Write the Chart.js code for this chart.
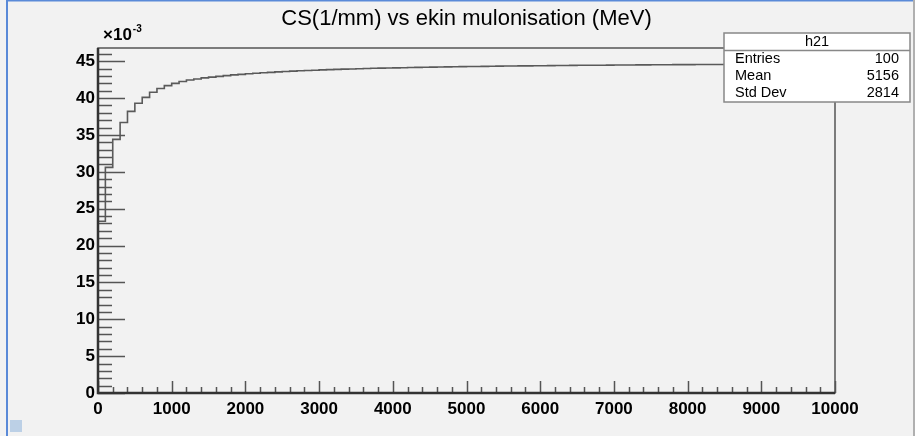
<!DOCTYPE html>
<html>
<head>
<meta charset="utf-8">
<script src="https://cdn.jsdelivr.net/npm/chart.js@4"></script>
<style>
  body { margin: 0; background: #f2f2f2; overflow: hidden; }
  canvas { display: block; }
</style>
</head>
<body>
<canvas id="chart" width="915" height="436"></canvas>
<script>
// histogram h21: 100 bins of width 100 MeV, values in units of 1e-3 (1/mm)
const binWidth = 100;
const csValues = [
  0, 23.3, 30.6, 34.4, 36.7, 38.2, 39.3, 40.1, 40.8, 41.3,
  41.7, 42.0, 42.25, 42.45, 42.6, 42.75, 42.85, 42.95, 43.05, 43.15,
  43.22, 43.3, 43.37, 43.44, 43.5, 43.56, 43.61, 43.66, 43.71, 43.75,
  43.79, 43.83, 43.87, 43.9, 43.93, 43.96, 43.99, 44.02, 44.05, 44.07,
  44.09, 44.11, 44.13, 44.15, 44.17, 44.19, 44.21, 44.23, 44.24, 44.26,
  44.27, 44.29, 44.3, 44.31, 44.33, 44.34, 44.35, 44.36, 44.37, 44.38,
  44.39, 44.4, 44.41, 44.42, 44.43, 44.44, 44.45, 44.46, 44.46, 44.47,
  44.48, 44.49, 44.49, 44.5, 44.51, 44.51, 44.52, 44.53, 44.53, 44.54,
  44.54, 44.55, 44.56, 44.56, 44.57, 44.57, 44.58, 44.58, 44.59, 44.59,
  44.6, 44.6, 44.61, 44.61, 44.62, 44.62, 44.62, 44.63, 44.63, 44.64
];
const xTicks = [0, 1000, 2000, 3000, 4000, 5000, 6000, 7000, 8000, 9000, 10000];
const yTicks = [0, 5, 10, 15, 20, 25, 30, 35, 40, 45];
const statsLabels = ['Entries', 'Mean', 'Std Dev'];
const statsValues = ['100', '5156', '2814'];

const FONT = "'Liberation Sans', Arial, Helvetica, sans-serif";

// bin low edges + closing point at the upper edge of the last bin
const points = csValues.map((v, i) => ({ x: i * binWidth, y: v }));
points.push({ x: csValues.length * binWidth, y: csValues[csValues.length - 1] });

const rootStyle = {
  id: 'rootStyle',
  beforeDraw(chart) {
    const c = chart.ctx;
    c.save();
    c.fillStyle = '#f2f2f2';
    c.fillRect(0, 0, chart.width, chart.height);
    // window edges
    c.fillStyle = '#5a8ad8';
    c.fillRect(6, 0, 2, chart.height);
    c.fillRect(6, 0, chart.width - 6, 1.5);
    c.fillStyle = '#b0b0b0';
    c.fillRect(chart.width - 2, 0, 2, chart.height);
    // small resize marker
    c.fillStyle = '#bcd0e6';
    c.fillRect(10, 420, 12, 12);
    c.restore();
  },
  afterDatasetsDraw(chart) {
    const c = chart.ctx;
    const a = chart.chartArea;
    const xs = chart.scales.x, ys = chart.scales.y;
    c.save();
    c.strokeStyle = '#555';
    c.lineWidth = 1.5;
    c.beginPath();
    // y ticks, pointing inward
    for (let v = 0; v <= ys.max; v += 1) {
      const y = Math.round(ys.getPixelForValue(v)) + 0.5;
      const len = v % 5 === 0 ? 27 : 14;
      c.moveTo(a.left, y);
      c.lineTo(a.left + len, y);
    }
    // x ticks, pointing inward
    for (let v = 0; v <= xs.max; v += 200) {
      const x = Math.round(xs.getPixelForValue(v)) + 0.5;
      const len = v % 1000 === 0 ? 12 : 6;
      c.moveTo(x, a.bottom);
      c.lineTo(x, a.bottom - len);
    }
    c.stroke();
    // frame
    c.strokeStyle = '#555';
    c.lineWidth = 1.5;
    c.strokeRect(a.left, a.top, a.right - a.left, a.bottom - a.top);
    c.strokeStyle = '#333';
    c.lineWidth = 2.5;
    c.beginPath();
    c.moveTo(a.left, a.top);
    c.lineTo(a.left, a.bottom);
    c.lineTo(a.right, a.bottom);
    c.stroke();
    c.restore();
  },
  afterDraw(chart) {
    const c = chart.ctx;
    c.save();
    // exponent label
    c.fillStyle = '#000';
    c.textBaseline = 'alphabetic';
    c.textAlign = 'left';
    c.font = 'bold 17px ' + FONT;
    c.fillText('\u00d710', 103, 40);
    const w = c.measureText('\u00d710').width;
    c.font = 'bold 10px ' + FONT;
    c.fillText('-3', 103 + w + 1, 32);

    // stats box
    const bx = 724, by = 33, bw = 186, bh = 69;
    c.fillStyle = '#fff';
    c.fillRect(bx, by, bw, bh);
    c.strokeStyle = '#888';
    c.lineWidth = 1.5;
    c.strokeRect(bx, by, bw, bh);
    c.beginPath();
    c.moveTo(bx, 50.5);
    c.lineTo(bx + bw, 50.5);
    c.stroke();
    c.fillStyle = '#000';
    c.font = '14.5px ' + FONT;
    c.textBaseline = 'middle';
    c.textAlign = 'center';
    c.fillText('h21', bx + bw / 2, 42);
    const rows = [59, 76, 93];
    statsLabels.forEach((lab, i) => {
      c.textAlign = 'left';
      c.fillText(lab, 735, rows[i]);
      c.textAlign = 'right';
      c.fillText(statsValues[i], 899, rows[i]);
    });
    c.restore();
  }
};

new Chart(document.getElementById('chart'), {
  type: 'line',
  data: {
    datasets: [{
      label: 'h21',
      data: points,
      stepped: 'after',
      borderColor: '#5a5a5a',
      borderWidth: 1.6,
      pointRadius: 0,
      fill: false,
    }],
  },
  options: {
    responsive: false,
    animation: false,
    layout: { padding: { left: 0, right: 80, top: 0, bottom: 0 } },
    plugins: {
      legend: { display: false },
      tooltip: { enabled: false },
      title: {
        display: true,
        fullSize: false,
        text: 'CS(1/mm) vs ekin mulonisation (MeV)',
        color: '#000',
        font: { family: FONT, size: 22, weight: 'normal', lineHeight: 1.2 },
        padding: { top: 5.5, bottom: 16.1 },
      },
    },
    scales: {
      x: {
        type: 'linear',
        min: 0,
        max: 10000,
        grid: { display: false, drawTicks: false },
        border: { display: false },
        afterBuildTicks: s => { s.ticks = xTicks.map(v => ({ value: v })); },
        afterFit: s => { s.height = 43; },
        ticks: {
          color: '#000',
          padding: 6,
          maxRotation: 0,
          callback: v => String(v),
          font: { family: FONT, size: 17, weight: 'bold' },
        },
      },
      y: {
        min: 0,
        max: 46.8,
        grid: { display: false, drawTicks: false },
        border: { display: false },
        afterBuildTicks: s => { s.ticks = yTicks.map(v => ({ value: v })); },
        afterFit: s => { s.width = 98; },
        ticks: {
          color: '#000',
          padding: 3,
          callback: v => String(v),
          font: { family: FONT, size: 17, weight: 'bold' },
        },
      },
    },
  },
  plugins: [rootStyle],
});
</script>
</body>
</html>
